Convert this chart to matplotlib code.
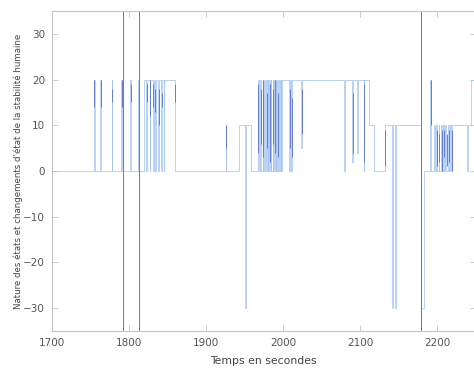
#!/usr/bin/env python3
import matplotlib
matplotlib.use("Agg")
import matplotlib.pyplot as plt

# step signal: breakpoints (time in s, state value), held until next point
sig_t = [1700,
         1754.5, 1755.3, 1762.5, 1763.3, 1777.5, 1778.3, 1790, 1790.8,
         1801.5, 1802.3, 1812, 1812.8,
         1820, 1822.7, 1823.4, 1827.2, 1827.9, 1831.2, 1831.9, 1833.8, 1834.5,
         1838.2, 1838.9, 1842.2, 1842.9, 1845, 1845.7, 1860,
         1925.7, 1926.4, 1943.5, 1950.5, 1951.3, 1959,
         1967, 1968.5, 1970.5, 1971.5, 1973.5, 1974.5, 1975.5, 1976.5, 1978, 1979,
         1980, 1981, 1982, 1983, 1984, 1985, 1986.5, 1987.5, 1988.5, 1989.5,
         1990.5, 1991.5, 1992.5, 1993.5, 1995, 1996, 1997, 1998, 1999,
         2008, 2008.8, 2011, 2011.8, 2024, 2024.8, 2079.5, 2080.3, 2090, 2090.8,
         2096, 2096.8, 2105, 2105.8, 2112, 2118, 2133, 2142, 2143, 2146, 2147,
         2179, 2183,
         2191.5, 2192.5, 2196, 2197, 2199, 2200, 2202, 2203, 2205, 2206, 2208,
         2209, 2211, 2212, 2214, 2215, 2217, 2218, 2220, 2239, 2240, 2244, 2250]
sig_v = [0,
         20, 0, 20, 0, 20, 0, 20, 0,
         20, 0, 20, 0,
         20, 0, 20, 0, 20, 0, 20, 0, 20,
         0, 20, 0, 20, 0, 20, 0,
         10, 0, 10, -30, 10, 0,
         20, 0, 20, 0, 20, 0, 20, 0, 20, 0,
         20, 0, 20, 0, 20, 0, 20, 0, 20, 0,
         20, 0, 20, 0, 20, 0, 20, 0, 20,
         0, 20, 0, 20, 5, 20, 0, 20, 2, 20,
         4, 20, 0, 20, 10, 0, 10, -30, 10, -30, 10,
         -30, 0,
         20, 0, 10, 0, 10, 0, 10, 0, 10, 0, 10,
         0, 10, 0, 10, 0, 10, 0, 10, 0, 10, 20, 20]

# darker overlapping strokes (time, low, high)
dark_t = [1755, 1763, 1778, 1790.5, 1802, 1812.5, 1823, 1827.5, 1831.5, 1834,
          1838.5, 1842.5, 1860, 1926, 1968, 1971, 1974, 1979, 1983, 1987, 1990,
          1993, 2008.5, 2011.5, 2024.5, 2090.5, 2105.5, 2133, 2179.5, 2192,
          2199.5, 2203, 2206, 2209.5, 2213, 2216, 2219]
dark_lo = [14, 14, 15, 14, 15, 14, 15, 12, 14, 13,
           10, 14, 15, 5, 4, 6, 3, 5, 2, 6, 4,
           3, 5, 3, 8, 4, 2, 1, -30, 10,
           1, 2, 0, 3, 1, 2, 0]
dark_hi = [20, 20, 18, 20, 19, 18, 19, 20, 19, 18,
           18, 17, 19, 10, 19, 18, 20, 17, 19, 18, 20,
           17, 18, 16, 18, 17, 19, 9, 0, 20,
           9, 8, 9, 9, 8, 9, 9]

# full-height event markers
event_t = [1792, 1813, 2179]

x_ticks = [1700, 1800, 1900, 2000, 2100, 2200]
y_ticks = [-30, -20, -10, 0, 10, 20, 30]

fig = plt.figure(figsize=(4.74, 3.72), dpi=100)
ax = fig.add_axes([52 / 474, 1 - 331 / 372, 423.5 / 474, 320 / 372])

ax.step(sig_t, sig_v, where="post", color="#a6c6f2", lw=0.55)
ax.vlines(dark_t, dark_lo, dark_hi, color="#5a6ed0", lw=0.6)
for t in event_t:
    ax.axvline(t, color="#7a7a7a", lw=0.7)

ax.set_xlim(1700, 2250)
ax.set_ylim(-35, 35)
ax.set_xticks(x_ticks)
ax.set_yticks(y_ticks)
ax.tick_params(direction="in", top=True, right=True, length=4, width=0.6,
               color="#c4c4c4", labelsize=7.5, labelcolor="#555555", pad=5)
for sp in ax.spines.values():
    sp.set_color("#c4c4c4")
    sp.set_linewidth(0.8)

ax.set_xlabel("Temps en secondes", fontsize=7.8, color="#444444", labelpad=6)
ax.set_ylabel("Nature des états et changements d'état de la stabilité humaine",
              fontsize=6.2, color="#444444", labelpad=0)

fig.savefig("out.png", dpi=100)
